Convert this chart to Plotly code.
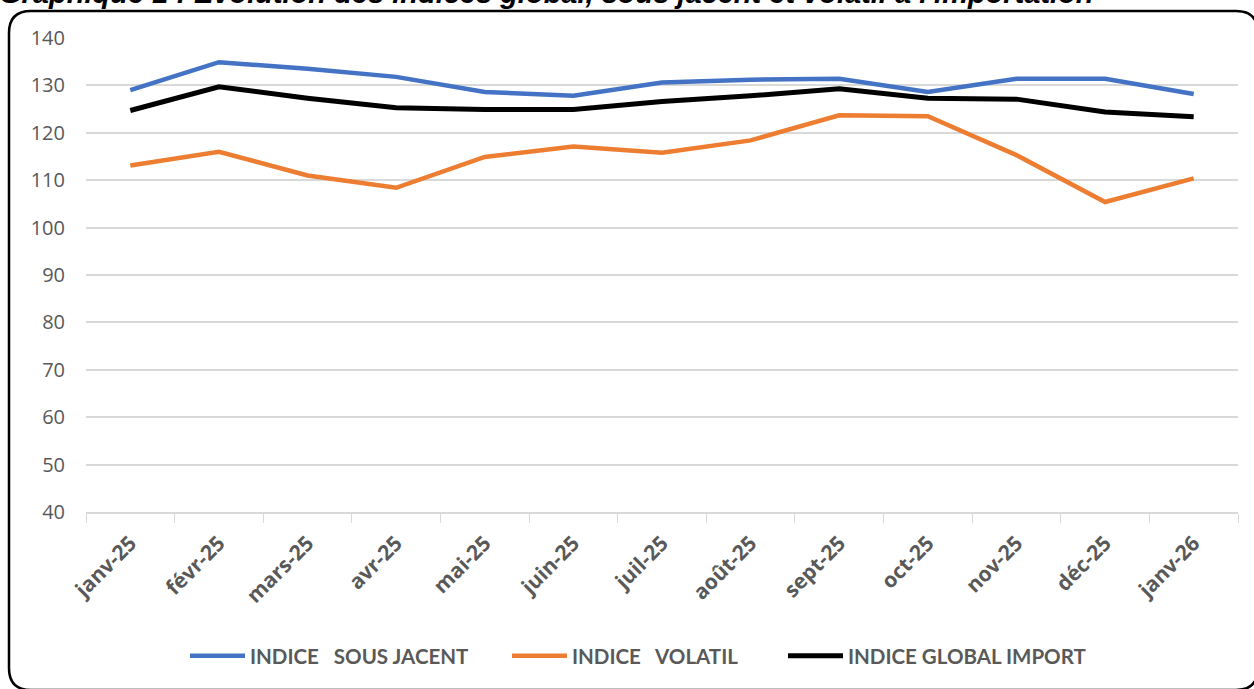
import plotly.graph_objects as go

months = ["janv-25", "févr-25", "mars-25", "avr-25", "mai-25", "juin-25", "juil-25",
          "août-25", "sept-25", "oct-25", "nov-25", "déc-25", "janv-26"]
sous_jacent = [129.0, 134.9, 133.5, 131.8, 128.6, 127.8, 130.6, 131.2, 131.4, 128.6, 131.4, 131.4, 128.2]
volatil = [113.1, 116.0, 111.0, 108.4, 114.9, 117.1, 115.8, 118.4, 123.7, 123.5, 115.3, 105.4, 110.4]
global_import = [124.7, 129.7, 127.3, 125.3, 124.9, 124.9, 126.6, 127.8, 129.3, 127.3, 127.1, 124.4, 123.4]
y_ticks = list(range(40, 150, 10))

series_names = ["INDICE\u00a0\u00a0 SOUS JACENT", "INDICE\u00a0\u00a0 VOLATIL", "INDICE GLOBAL IMPORT"]
title_text = "Graphique 1 : Evolution des indices global, sous jacent et volatil à l'importation"

W, H = 1254, 689
L, R, T, B = 86, 16, 38, 177


def px(x):
    return (x - L) / (W - L - R)


def py(y):
    return (H - B - y) / (H - T - B)


legend_font = dict(family="Lato", size=20.5, color="#595959", weight="bold")
legend_left = [190, 512, 788]

fig = go.Figure()
for i, (name, vals, col, wd) in enumerate([(series_names[0], sous_jacent, "#4472C4", 4.5),
                                           (series_names[1], volatil, "#ED7D31", 4.5),
                                           (series_names[2], global_import, "#000000", 5)]):
    lg = "legend" if i == 0 else f"legend{i + 1}"
    fig.add_trace(go.Scatter(x=months, y=vals, mode="lines", name=name, legend=lg,
                             line=dict(color=col, width=wd)))
    fig.update_layout({lg: dict(orientation="h", x=px(legend_left[i] - 5), xanchor="left",
                                y=py(656), yanchor="middle", font=legend_font,
                                itemwidth=55, bgcolor="rgba(0,0,0,0)")})

# rounded frame
x0, y0, x1, y1, r = 9, 11, 1258, 690, 22
path = (f"M {px(x0 + r)},{py(y0)} L {px(x1 - r)},{py(y0)} "
        f"Q {px(x1)},{py(y0)} {px(x1)},{py(y0 + r)} "
        f"L {px(x1)},{py(y1 - r)} Q {px(x1)},{py(y1)} {px(x1 - r)},{py(y1)} "
        f"L {px(x0 + r)},{py(y1)} Q {px(x0)},{py(y1)} {px(x0)},{py(y1 - r)} "
        f"L {px(x0)},{py(y0 + r)} Q {px(x0)},{py(y0)} {px(x0 + r)},{py(y0)} Z")
fig.add_shape(type="path", path=path, xref="paper", yref="paper",
              line=dict(color="black", width=2.5), layer="below")

fig.add_annotation(text=title_text, xref="paper", yref="paper", x=px(-3), y=py(-7.5),
                   xanchor="left", yanchor="middle", showarrow=False,
                   font=dict(family="Liberation Sans", size=29, color="black",
                             weight="bold", style="italic"))

fig.update_layout(
    width=W, height=H,
    margin=dict(l=L, r=R, t=T, b=B),
    plot_bgcolor="white", paper_bgcolor="white",
    showlegend=True,
    xaxis=dict(type="category", tickson="boundaries", ticks="outside", ticklen=9,
               tickcolor="#D9D9D9", showline=True, linecolor="#D9D9D9", linewidth=1.5,
               showgrid=False, tickangle=-45, ticklabelstandoff=9,
               tickfont=dict(family="Open Sans", size=21, color="#595959", weight="bold"),
               range=[-0.5, len(months) - 0.5]),
    yaxis=dict(range=[40, 140], tickvals=y_ticks, showgrid=True, gridcolor="#D9D9D9",
               gridwidth=1.5, zeroline=False, showline=False, ticks="",
               tickfont=dict(family="Open Sans", size=20, color="#595959"), ticklabelstandoff=20),
)

fig.write_html("out.html", config={"displayModeBar": False},
               post_script="document.body.style.margin='0';document.body.style.overflow='hidden';")
